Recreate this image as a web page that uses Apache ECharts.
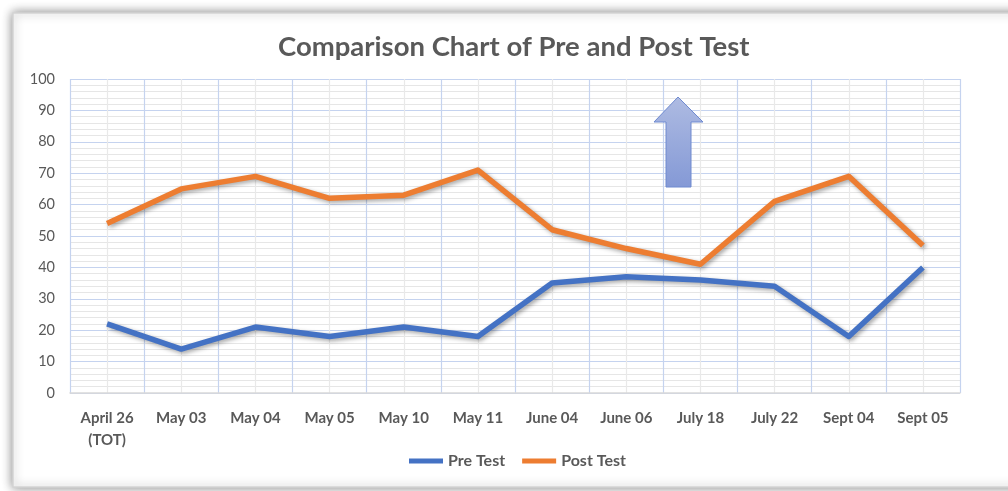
<!DOCTYPE html>
<html>
<head>
<meta charset="utf-8">
<script src="https://cdn.jsdelivr.net/npm/echarts@6/dist/echarts.min.js"></script>
<style>
html,body{margin:0;padding:0;background:#fff;}
#chart{width:1008px;height:491px;}
</style>
</head>
<body>
<div id="chart"></div>
<script>
const categories = ['April 26\n(TOT)','May 03','May 04','May 05','May 10','May 11','June 04','June 06','July 18','July 22','Sept 04','Sept 05'];
const preTest = [22,14,21,18,21,18,35,37,36,34,18,40];
const postTest = [54,65,69,62,63,71,52,46,41,61,69,47];
const yTicks = [0,10,20,30,40,50,60,70,80,90,100];

const chart = echarts.init(document.getElementById('chart'), null, {renderer:'canvas'});
const FONT = 'Lato, "Open Sans", sans-serif';
const TXT = '#595959';
const lineShadow = {shadowColor:'rgba(0,0,0,0.35)', shadowBlur:4, shadowOffsetX:2, shadowOffsetY:2};

chart.setOption({
  animation:false,
  backgroundColor:'#ffffff',
  title:{
    text:'Comparison Chart of Pre and Post Test',
    left:273, top:28,
    textStyle:{fontFamily:FONT, fontWeight:'bold', fontSize:27.5, color:TXT}
  },
  legend:{
    bottom:17, left:404,
    icon:'rect', itemWidth:34, itemHeight:5, itemGap:17,
    textStyle:{fontFamily:FONT, fontWeight:'bold', fontSize:16, color:TXT},
    data:['Pre Test','Post Test']
  },
  grid:{left:70, right:48, top:79, bottom:98, containLabel:false},
  xAxis:[{
    type:'category', data:categories, boundaryGap:true,
    axisLine:{show:true, lineStyle:{color:'#d9d9d9', width:1.5}},
    axisTick:{show:false},
    axisLabel:{fontFamily:FONT, fontWeight:'bold', fontSize:15, color:TXT, margin:14, lineHeight:22, interval:0},
    splitLine:{show:false}
  },{
    type:'value', min:0, max:24, interval:1, show:true,
    axisLine:{show:false}, axisTick:{show:false}, axisLabel:{show:false},
    splitLine:{show:true, lineStyle:{color:['#c5d3ef','#e9e9e9'], width:1.2}}
  }],
  yAxis:{
    type:'value', min:yTicks[0], max:yTicks[yTicks.length-1], interval:10,
    axisLine:{show:false}, axisTick:{show:false},
    axisLabel:{fontFamily:FONT, fontSize:14.5, color:TXT, margin:15},
    splitLine:{show:true, lineStyle:{color:'#c5d3ef', width:1.2}},
    minorTick:{show:false, splitNumber:5},
    minorSplitLine:{show:true, lineStyle:{color:'#e6e6e6', width:1.2}}
  },
  graphic:[
    {type:'rect', z:-10, silent:true, shape:{x:13, y:13, width:1010, height:474},
     style:{fill:'#fff', stroke:'#d4d4d4', lineWidth:1.5, shadowColor:'rgba(0,0,0,0.45)', shadowBlur:10, shadowOffsetX:0, shadowOffsetY:0}},
    {type:'polygon', z:100, silent:true,
     shape:{points:[[678,97],[703,122],[691,122],[691,187],[666,187],[666,122],[654,122]]},
     style:{fill:new echarts.graphic.LinearGradient(0,0,0,1,[{offset:0,color:'#aebbe2'},{offset:1,color:'#8499d6'}]),
            stroke:'#6f8ad0', lineWidth:1}}
  ],
  series:[
    {name:'Pre Test', type:'line', data:preTest, showSymbol:false, symbol:'none',
     itemStyle:{color:'#4472C4'},
     lineStyle:Object.assign({color:'#4472C4', width:5.5, join:'round'}, lineShadow)},
    {name:'Post Test', type:'line', data:postTest, showSymbol:false, symbol:'none',
     itemStyle:{color:'#ED7D31'},
     lineStyle:Object.assign({color:'#ED7D31', width:5.5, join:'round'}, lineShadow)}
  ]
});
</script>
</body>
</html>
